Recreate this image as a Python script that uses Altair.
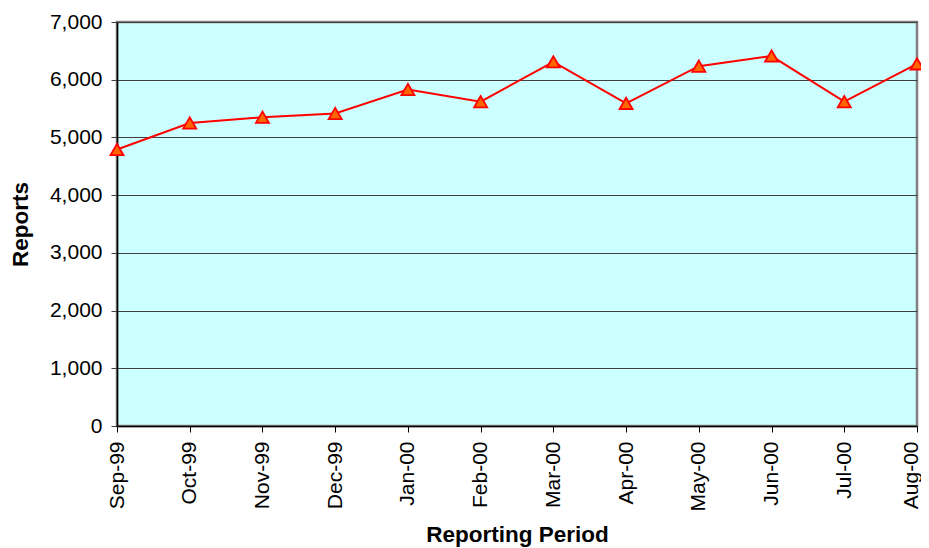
import altair as alt
import pandas as pd

periods = ["Sep-99", "Oct-99", "Nov-99", "Dec-99", "Jan-00", "Feb-00",
           "Mar-00", "Apr-00", "May-00", "Jun-00", "Jul-00", "Aug-00"]
reports = [4790, 5250, 5350, 5415, 5830, 5620, 6310, 5590, 6235, 6410, 5620, 6275]
y_ticks = [0, 1000, 2000, 3000, 4000, 5000, 6000, 7000]

df = pd.DataFrame({"period": periods, "reports": reports})

x = alt.X("period:N", sort=periods,
          scale=alt.Scale(type="point", padding=0),
          axis=alt.Axis(title="Reporting Period", labelAngle=270,
                        labelAlign="right", labelBaseline="middle",
                        labelFontSize=21, labelFont="Liberation Sans",
                        labelColor="black", labelPadding=9,
                        labelOffset=alt.condition(
                            f"datum.value == '{periods[-1]}'",
                            alt.value(-6), alt.value(0)),
                        tickSize=6, tickColor="black", domainColor="black",
                        domainWidth=1.5, grid=False,
                        titleFontSize=22.5, titleFont="Liberation Sans",
                        titleFontWeight="bold", titleColor="black",
                        titleBaseline="alphabetic", titleY=115))
y = alt.Y("reports:Q",
          scale=alt.Scale(domain=[0, 7000], nice=False),
          axis=alt.Axis(title="Reports", values=y_ticks, format=",.0f",
                        labelFontSize=21, labelFont="Liberation Sans",
                        labelColor="black", labelPadding=9,
                        tickSize=6, tickColor="#404040", domainColor="black",
                        domainWidth=1.5, grid=True, gridColor="#404040",
                        gridWidth=1,
                        titleFontSize=22.5, titleFont="Liberation Sans",
                        titleFontWeight="bold", titleColor="black",
                        titleX=-97, titleBaseline="middle"))

base = alt.Chart(df)
line = base.mark_line(color="#FF0000", strokeWidth=2).encode(x=x, y=y)
pts = base.mark_point(shape="triangle-up", size=170, filled=True,
                      fill="#FF6600", stroke="#FF0000", strokeWidth=1.8,
                      opacity=1).encode(x=x, y=y)

chart = (line + pts).properties(
    width=800, height=404,
    autosize=alt.AutoSizeParams(type="none"),
    padding={"left": 109, "top": 14, "right": 4, "bottom": 126},
).configure_view(fill="#CCFFFF", stroke="#808080", strokeWidth=2.5)

chart.save("out.html", embed_options={"renderer": "svg", "actions": False})
